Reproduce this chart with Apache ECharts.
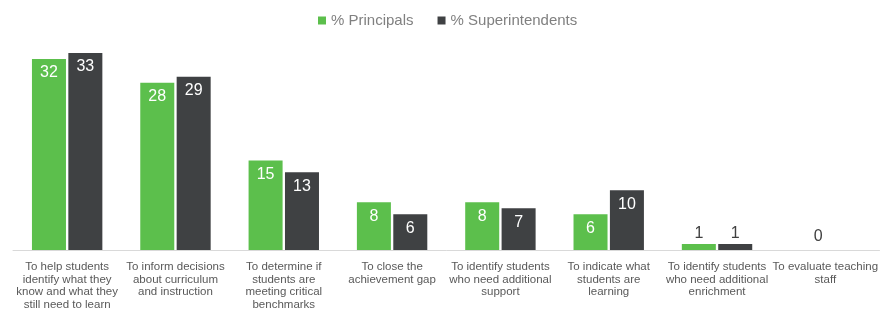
<!DOCTYPE html>
<html>
<head>
<meta charset="utf-8">
<script src="https://cdn.jsdelivr.net/npm/echarts@6/dist/echarts.min.js"></script>
<style>
  html, body { margin: 0; padding: 0; background: #fff; }
  #chart { width: 881px; height: 312px; }
</style>
</head>
<body>
<div id="chart"></div>
<script>
const categories = [
  'To help students\nidentify what they\nknow and what they\nstill need to learn',
  'To inform decisions\nabout curriculum\nand instruction',
  'To determine if\nstudents are\nmeeting critical\nbenchmarks',
  'To close the\nachievement gap',
  'To identify students\nwho need additional\nsupport',
  'To indicate what\nstudents are\nlearning',
  'To identify students\nwho need additional\nenrichment',
  'To evaluate teaching\nstaff'
];
const principals = [32, 28, 15, 8, 8, 6, 1, 0];
const superintendents = [33, 29, 13, 6, 7, 10, 1, 0];

// big values sit inside the bar in white, small ones above it.
// when both series are 0 only one "0" is drawn, centred on the category
function withLabels(values, isFirst) {
  return values.map(function (v, i) {
    if (v >= 5) {
      return { value: v, label: { position: 'insideTop', color: '#ffffff', distance: 6 } };
    }
    if (v === 0 && principals[i] === 0 && superintendents[i] === 0) {
      return isFirst
        ? { value: v, label: { position: 'top', color: '#404040', distance: 5, offset: [11, 0] } }
        : { value: v, label: { show: false } };
    }
    return { value: v, label: { position: 'top', color: '#404040', distance: 2 } };
  });
}

const chart = echarts.init(document.getElementById('chart'));
chart.setOption({
  animation: false,
  textStyle: { fontFamily: 'Liberation Sans, Arial, sans-serif' },
  legend: {
    top: 8,
    left: 313,
    itemWidth: 8,
    itemHeight: 8,
    itemGap: 24,
    icon: 'rect',
    textStyle: { fontSize: 15, color: '#808080', fontFamily: 'Liberation Sans, Arial, sans-serif' },
    data: ['% Principals', '% Superintendents']
  },
  grid: { left: 13, right: 0, top: 41, bottom: 62 },
  xAxis: {
    type: 'category',
    data: categories,
    axisLine: { lineStyle: { color: '#d9d9d9', width: 1 } },
    axisTick: { show: false },
    axisLabel: {
      interval: 0,
      margin: 11,
      fontSize: 11.5,
      lineHeight: 12.5,
      color: '#595959',
      fontFamily: 'Liberation Sans, Arial, sans-serif'
    }
  },
  yAxis: {
    type: 'value',
    min: 0,
    max: 35,
    show: false,
    splitLine: { show: false }
  },
  series: [
    {
      name: '% Principals',
      type: 'bar',
      barGap: '7%',
      barCategoryGap: '35%',
      itemStyle: { color: '#5cbf4c' },
      label: { show: true, fontSize: 16, fontFamily: 'Liberation Sans, Arial, sans-serif' },
      data: withLabels(principals, true)
    },
    {
      name: '% Superintendents',
      type: 'bar',
      itemStyle: { color: '#3f4143' },
      label: { show: true, fontSize: 16, fontFamily: 'Liberation Sans, Arial, sans-serif' },
      data: withLabels(superintendents, false)
    }
  ]
});
</script>
</body>
</html>
